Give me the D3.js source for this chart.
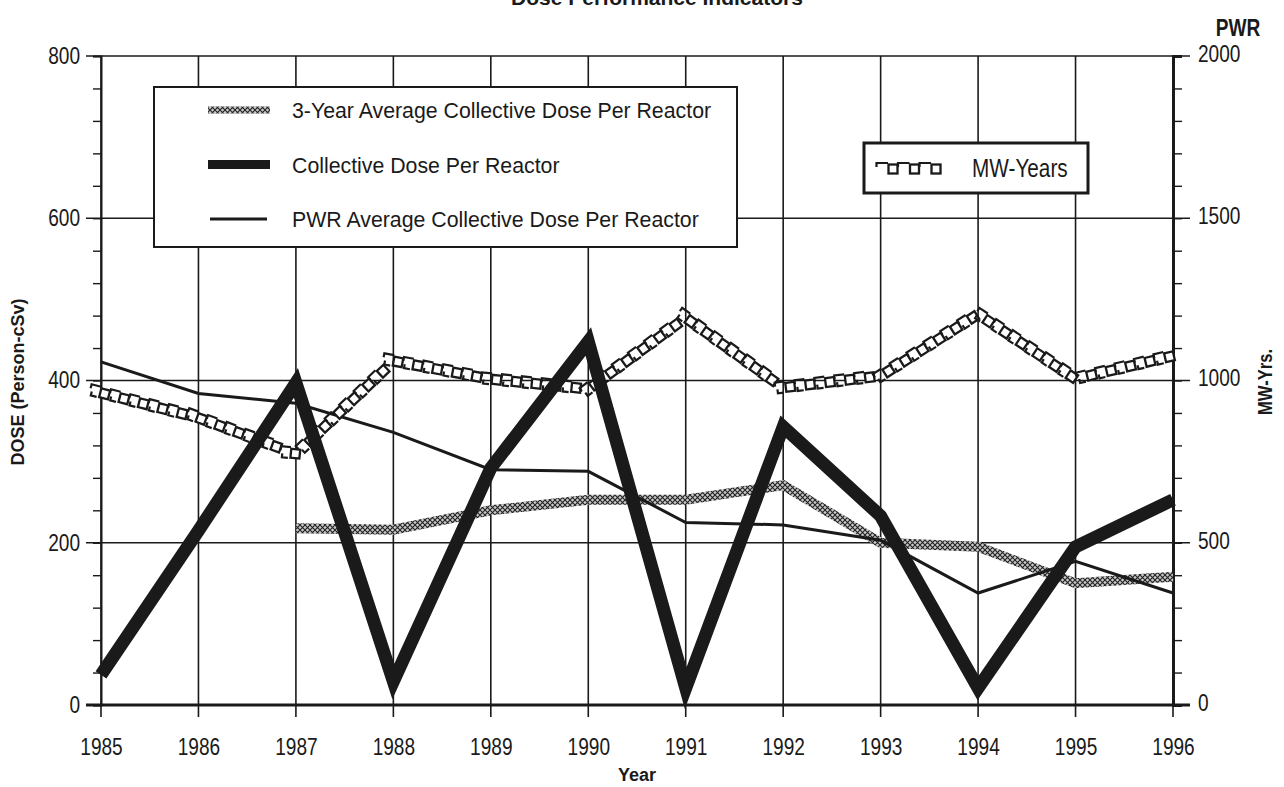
<!DOCTYPE html>
<html>
<head>
<meta charset="utf-8">
<script src="https://cdn.jsdelivr.net/npm/d3@7"></script>
<style>
    body { margin: 0; background: #fff; }
    svg { display: block; }
    text { fill: #1a1a1a; }
</style>
</head>
<body>
<div id="chart"></div>
<script>
// values
var years = [1985, 1986, 1987, 1988, 1989, 1990, 1991, 1992, 1993, 1994, 1995, 1996];
var collectiveDose = [37, 215, 397, 29, 292, 448, 21, 343, 233, 21, 195, 253];
var pwrAverage = [423, 384, 372, 336, 290, 288, 225, 222, 203, 138, 177, 138];
var threeYearAvg = [null, null, 218, 216, 240, 253, 253, 271, 200, 195, 150, 158];
var mwYears = [965, 888, 777, 1063, 1007, 977, 1197, 981, 1017, 1208, 1008, 1079];

var doseTicks = [0, 200, 400, 600, 800];
var mwTicks = [0, 500, 1000, 1500, 2000];

var legendItems = [
    { key: "avg3", label: "3-Year Average Collective Dose Per Reactor" },
    { key: "dose", label: "Collective Dose Per Reactor" },
    { key: "pwr", label: "PWR Average Collective Dose Per Reactor" }
];

var width = 1284;
var height = 787;
var ink = "#1a1a1a";
var font = "'Liberation Sans', Arial, sans-serif";
var squeeze = 0.83; // the print uses a condensed face for numbers

var svg = d3.select("#chart").append("svg")
    .attr("width", width)
    .attr("height", height);

var x = d3.scaleLinear().domain([1985, 1996]).range([101, 1173]);
var y = d3.scaleLinear().domain([0, 800]).range([705, 56]);
var y2 = d3.scaleLinear().domain([0, 2000]).range([705, 56]);

// hatch pattern for the 3-year average band
var defs = svg.append("defs");
var pat = defs.append("pattern")
    .attr("id", "hatch")
    .attr("patternUnits", "userSpaceOnUse")
    .attr("width", 5)
    .attr("height", 5);
pat.append("rect").attr("width", 5).attr("height", 5).attr("fill", "#c8c8c8");
pat.append("path")
    .attr("d", "M0,0 L5,5 M5,0 L0,5")
    .attr("stroke", "#222")
    .attr("stroke-width", 1.1);

// condensed text helper: squeeze horizontally around its own x
function condensed(sel, cx, cy) {
    sel.attr("transform", "translate(" + cx + "," + cy + ") scale(" + squeeze + ",1)")
        .attr("x", 0)
        .attr("y", 0);
}

// title, cut off at the top edge
svg.append("text")
    .attr("x", 657)
    .attr("y", 5)
    .attr("text-anchor", "middle")
    .style("font-family", font)
    .style("font-weight", "bold")
    .style("font-size", "21px")
    .text("Dose Performance Indicators");

// grid
var grid = svg.append("g");
grid.selectAll(".vgrid")
    .data(years)
    .enter().append("line")
    .attr("x1", function (d) { return x(d); })
    .attr("x2", function (d) { return x(d); })
    .attr("y1", y(800))
    .attr("y2", y(0) + 12)
    .attr("stroke", ink)
    .attr("stroke-width", 1.6);

grid.selectAll(".hgrid")
    .data(doseTicks)
    .enter().append("line")
    .attr("x1", x(1985) - 15)
    .attr("x2", x(1996) + 17)
    .attr("y1", function (d) { return y(d); })
    .attr("y2", function (d) { return y(d); })
    .attr("stroke", ink)
    .attr("stroke-width", function (d) { return d == 0 ? 3 : 1.6; });

// left axis
var yAxis = d3.axisLeft(y)
    .tickValues(d3.range(0, 801, 40))
    .tickSize(8)
    .tickFormat(function (d) { return doseTicks.indexOf(d) >= 0 ? d : ""; });
var gy = svg.append("g")
    .attr("transform", "translate(" + x(1985) + ",0)")
    .call(yAxis);
gy.select(".domain").attr("stroke", ink).attr("stroke-width", 2);
gy.selectAll(".tick line").attr("stroke", ink).attr("stroke-width", 1.4);
gy.selectAll(".tick text")
    .style("font-family", font)
    .style("font-size", "23px")
    .style("fill", ink)
    .each(function () { condensed(d3.select(this), -21, 0); });

// right axis
var y2Axis = d3.axisRight(y2)
    .tickValues(d3.range(0, 2001, 100))
    .tickSize(9)
    .tickFormat(function (d) { return mwTicks.indexOf(d) >= 0 ? d : ""; });
var gy2 = svg.append("g")
    .attr("transform", "translate(" + x(1996) + ",0)")
    .call(y2Axis);
gy2.select(".domain").attr("stroke", ink).attr("stroke-width", 3);
gy2.selectAll(".tick line").attr("stroke", ink).attr("stroke-width", 1.4);
gy2.selectAll(".tick text")
    .style("font-family", font)
    .style("font-size", "23px")
    .style("fill", ink)
    .each(function () { condensed(d3.select(this), 25, -2); });

// bottom axis labels
var xAxis = d3.axisBottom(x)
    .tickValues(years)
    .tickSize(0)
    .tickFormat(d3.format("d"));
var gx = svg.append("g")
    .attr("transform", "translate(0," + y(0) + ")")
    .call(xAxis);
gx.select(".domain").remove();
gx.selectAll(".tick text")
    .attr("dy", "0")
    .style("font-family", font)
    .style("font-size", "23px")
    .style("fill", ink)
    .each(function () { condensed(d3.select(this), 0, 50); });

// axis titles
svg.append("text")
    .attr("transform", "translate(24,382) rotate(-90)")
    .attr("text-anchor", "middle")
    .style("font-family", font)
    .style("font-weight", "bold")
    .style("font-size", "18px")
    .text("DOSE (Person-cSv)");

svg.append("text")
    .attr("transform", "translate(1272,382) rotate(-90) scale(" + squeeze + ",1)")
    .attr("text-anchor", "middle")
    .style("font-family", font)
    .style("font-weight", "bold")
    .style("font-size", "20px")
    .text("MW-Yrs.");

svg.append("text")
    .attr("transform", "translate(1238,36) scale(" + squeeze + ",1)")
    .attr("text-anchor", "middle")
    .style("font-family", font)
    .style("font-weight", "bold")
    .style("font-size", "23px")
    .text("PWR");

svg.append("text")
    .attr("x", 637)
    .attr("y", 781)
    .attr("text-anchor", "middle")
    .style("font-family", font)
    .style("font-weight", "bold")
    .style("font-size", "18px")
    .text("Year");

// series
var lineDose = d3.line()
    .defined(function (d) { return d[1] != null; })
    .x(function (d) { return x(d[0]); })
    .y(function (d) { return y(d[1]); });
var lineMW = d3.line()
    .x(function (d) { return x(d[0]); })
    .y(function (d) { return y2(d[1]); });

function pairs(vals) {
    return years.map(function (yr, i) { return [yr, vals[i]]; });
}

var series = svg.append("g");

// 3-year average: hatched band
series.append("path")
    .attr("d", lineDose(pairs(threeYearAvg)))
    .attr("fill", "none")
    .attr("stroke", "url(#hatch)")
    .attr("stroke-width", 10);

// PWR average: thin line
series.append("path")
    .attr("d", lineDose(pairs(pwrAverage)))
    .attr("fill", "none")
    .attr("stroke", ink)
    .attr("stroke-width", 3);

// MW-Years: squares strung along a line
var mwPath = series.append("path")
    .attr("d", lineMW(pairs(mwYears)))
    .attr("fill", "none")
    .attr("stroke", "none");

function stringSquares(g, node, step, marks) {
    var len = node.getTotalLength();
    for (var s = 4; s < len; s += step) {
        var p = node.getPointAtLength(s);
        var q = node.getPointAtLength(Math.min(len, s + 1));
        var o = node.getPointAtLength(Math.max(0, s - 1));
        var ang = Math.atan2(q.y - o.y, q.x - o.x) * 180 / Math.PI;
        var m = g.append("g")
            .attr("transform", "translate(" + p.x + "," + p.y + ") rotate(" + ang + ")");
        var h = step / 2;
        m.append("path")
            .attr("d", "M-" + (step - 5) + ",-1 V-5 H-5")
            .attr("fill", "none")
            .attr("stroke", ink)
            .attr("stroke-width", 2.2);
        if (marks) {
            m.append("path")
                .attr("d", "M-" + (h + 3) + ",2 V6 H-" + (h - 3))
                .attr("fill", "none")
                .attr("stroke", ink)
                .attr("stroke-width", 2.2);
        }
        m.append("rect")
            .attr("x", -4.5)
            .attr("y", -3.5)
            .attr("width", 9)
            .attr("height", 9)
            .attr("fill", "#fff")
            .attr("stroke", ink)
            .attr("stroke-width", 2.3);
    }
}
stringSquares(series.append("g"), mwPath.node(), 20, true);

// collective dose: thick line
series.append("path")
    .attr("d", lineDose(pairs(collectiveDose)))
    .attr("fill", "none")
    .attr("stroke", ink)
    .attr("stroke-width", 13)
    .attr("stroke-linejoin", "miter")
    .attr("stroke-miterlimit", 10);

// legend 1
var leg = svg.append("g");
leg.append("rect")
    .attr("x", 154)
    .attr("y", 87)
    .attr("width", 583)
    .attr("height", 160)
    .attr("fill", "#fff")
    .attr("stroke", ink)
    .attr("stroke-width", 2);

var rows = leg.selectAll(".row")
    .data(legendItems)
    .enter().append("g")
    .attr("transform", function (d, i) { return "translate(0," + (110 + i * 54.5) + ")"; });

rows.each(function (d) {
    var r = d3.select(this);
    if (d.key == "avg3") {
        r.append("line").attr("x1", 208).attr("x2", 270)
            .attr("stroke", "url(#hatch)").attr("stroke-width", 7);
    } else if (d.key == "dose") {
        r.append("line").attr("x1", 208).attr("x2", 270)
            .attr("stroke", ink).attr("stroke-width", 9);
    } else {
        r.append("line").attr("x1", 210).attr("x2", 267)
            .attr("stroke", ink).attr("stroke-width", 3);
    }
});

rows.append("text")
    .attr("x", 292)
    .attr("y", 8)
    .style("font-family", font)
    .style("font-size", "21.3px")
    .text(function (d) { return d.label; });

// legend 2
var leg2 = svg.append("g");
leg2.append("rect")
    .attr("x", 864)
    .attr("y", 143)
    .attr("width", 224)
    .attr("height", 50)
    .attr("fill", "#fff")
    .attr("stroke", ink)
    .attr("stroke-width", 3);
var sample = leg2.append("path")
    .attr("d", "M889,168 H953")
    .attr("stroke", "none");
stringSquares(leg2.append("g"), sample.node(), 21.5, false);
leg2.append("text")
    .attr("transform", "translate(972,177) scale(" + squeeze + ",1)")
    .style("font-family", font)
    .style("font-size", "25px")
    .text("MW-Years");
</script>
</body>
</html>
